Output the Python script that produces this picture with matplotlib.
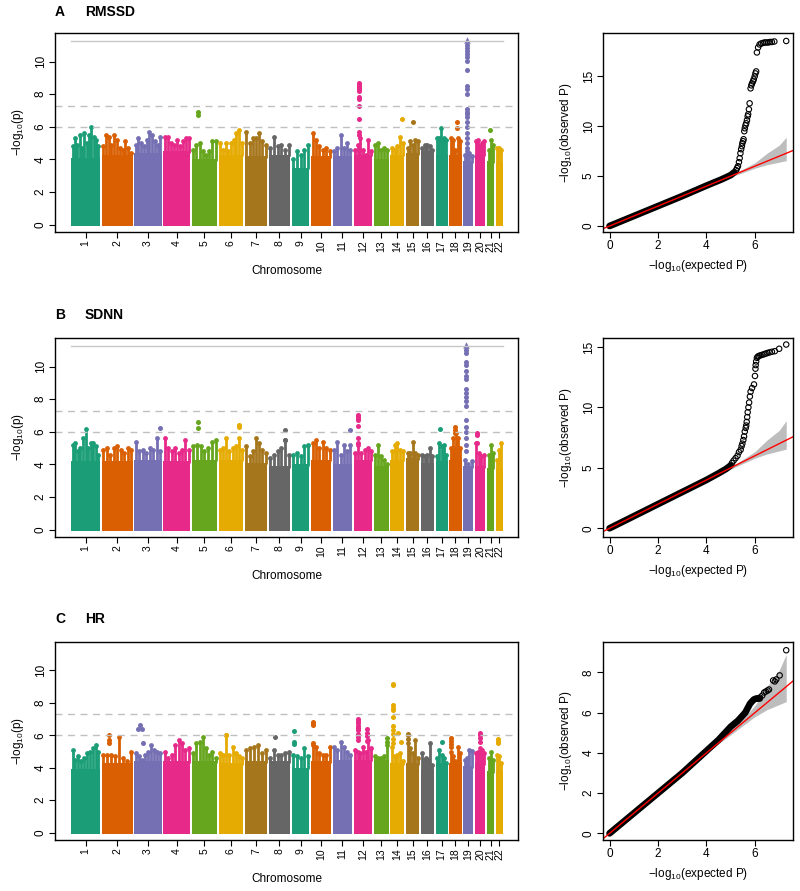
import numpy as np
import matplotlib
matplotlib.use("Agg")
import matplotlib.pyplot as plt

plt.rcParams['font.family'] = ['Liberation Sans', 'DejaVu Sans']
plt.rcParams['mathtext.fontset'] = 'custom'
plt.rcParams['mathtext.rm'] = 'Liberation Sans'
plt.rcParams['mathtext.default'] = 'regular'

chroms = [str(i) for i in range(1, 23)]
# visible extent of each chromosome on the genome axis (relative units)
chrom_width = [29, 31, 27.7, 26.7, 25.3, 24.6, 22.3, 21.4, 17.7, 20, 19.3,
               18.7, 15, 14, 13, 13.3, 12, 12.4, 10, 10.7, 7, 7.3]
chrom_gap = 1.6
palette = ["#1B9E77", "#D95F02", "#7570B3", "#E7298A",
           "#66A61E", "#E6AB02", "#A6761D", "#666666"]

suggestive = 6.0
genomewide = 7.3
cap_level = 11.25

# ---- RMSSD ----
rmssd_base = [4.1, 4.3, 4.4, 4.5, 4.0, 4.3, 4.2, 4.3, 3.5, 4.2, 4.2,
              4.3, 4.0, 4.3, 4.4, 4.5, 4.3, 4.3, 3.9, 4.3, 3.9, 3.8]
rmssd_tops = [
    [4.8, 5.3, 4.9, 5.5, 4.7, 5.6, 5.0, 5.5, 6.0, 5.4, 5.2, 4.8],
    [4.8, 5.5, 5.4, 4.9, 5.5, 5.2, 4.7, 4.6, 5.1, 4.7, 4.4],
    [4.9, 5.3, 5.0, 4.8, 5.2, 5.7, 5.5, 5.1, 4.9, 5.4],
    [5.4, 5.4, 5.0, 4.9, 5.2, 4.8, 5.1, 5.3, 5.3],
    [4.6, 4.9, 5.0, 4.5, 4.3, 4.5, 5.1, 5.1],
    [5.0, 4.6, 5.0, 4.5, 5.0, 5.2, 5.6, 5.8, 5.0],
    [5.7, 5.0, 5.3, 5.3, 5.6, 5.1, 4.9],
    [4.7, 5.4, 4.8, 4.9, 4.6, 4.9],
    [4.0, 4.5, 4.3, 4.6, 4.9],
    [5.6, 5.2, 4.8, 4.6, 4.7, 4.5],
    [4.5, 4.7, 5.5, 4.7, 5.0, 4.6],
    [4.6, 4.9, 5.3, 4.6, 4.3, 5.2, 4.5],
    [4.9, 5.0, 4.6, 4.7, 4.6],
    [4.7, 4.6, 4.8, 5.4, 5.0],
    [4.7, 5.1, 4.9, 5.2, 5.1],
    [4.7, 4.9, 4.9, 4.8, 4.6],
    [5.3, 5.3, 5.9, 5.1, 5.3, 5.2],
    [5.3, 5.2, 4.6, 5.3, 5.1],
    [4.3, 4.5, 4.4, 4.2],
    [5.1, 5.2, 4.8, 5.0, 5.1],
    [4.6, 5.2, 4.9],
    [4.7, 4.7, 4.6],
]
rmssd_hits = {
    5: [(0.25, [6.9, 6.75])],
    12: [(0.28, [8.7, 8.6, 8.5, 8.4, 8.3, 8.2, 7.8, 7.7, 7.3, 6.5, 5.7, 5.5])],
    14: [(0.8, [6.5])],
    15: [(0.5, [6.3])],
    18: [(0.65, [6.3, 5.9])],
    19: [(0.4, [11.0, 10.85, 10.65, 10.45, 10.25, 10.05, 9.5, 8.5, 8.3, 8.0,
                7.1, 6.9, 6.8, 6.6, 6.3, 6.0, 5.6, 5.3, 5.0, 4.7])],
    21: [(0.45, [5.8])],
}
rmssd_capped = {19: 0.4}

# ---- SDNN ----
sdnn_base = [4.2, 4.2, 4.3, 4.2, 4.3, 4.3, 4.1, 3.9, 4.0, 4.3, 4.0,
             4.3, 3.9, 4.3, 4.4, 4.1, 4.2, 4.3, 3.9, 3.9, 3.8, 3.8]
sdnn_tops = [
    [5.2, 5.3, 4.8, 5.0, 5.6, 6.2, 5.0, 5.3, 5.3, 5.1, 4.6],
    [4.9, 5.0, 4.6, 5.0, 5.1, 4.9, 4.7, 5.0, 4.9],
    [5.4, 4.8, 4.9, 4.7, 5.0, 4.9, 5.6, 4.8],
    [5.6, 5.0, 4.8, 5.0, 4.7, 4.9, 5.5, 4.9],
    [5.1, 5.2, 5.1, 4.8, 5.0, 5.4, 5.5],
    [4.9, 5.0, 5.6, 4.8, 5.0, 5.1, 5.6, 4.9],
    [5.1, 4.5, 4.8, 5.6, 5.3, 4.9, 4.7],
    [4.4, 4.6, 4.8, 5.0, 5.5, 4.6],
    [4.6, 4.7, 4.5, 5.1, 5.2],
    [5.3, 5.5, 5.0, 5.4, 5.0, 4.9],
    [4.9, 5.4, 4.6, 5.2, 4.8, 5.2],
    [4.7, 5.2, 4.7, 4.9, 5.0, 4.8],
    [4.6, 5.2, 4.5, 4.3, 4.0],
    [4.8, 5.2, 5.3, 4.9, 4.8],
    [4.7, 4.7, 5.4, 4.7, 4.6],
    [4.6, 4.5, 4.6, 5.0, 4.5],
    [4.5, 5.3, 5.1, 5.2, 4.6],
    [5.0, 5.6, 5.0, 5.9, 5.6, 5.0],
    [4.3, 4.0, 4.2],
    [5.3, 4.7, 4.5, 4.6],
    [4.6, 5.2, 4.7],
    [4.3, 4.9, 5.3],
]
sdnn_hits = {
    3: [(0.93, [6.25])],
    5: [(0.25, [6.6, 6.25])],
    6: [(0.84, [6.4, 6.3])],
    8: [(0.78, [6.1, 5.5])],
    11: [(0.9, [6.1])],
    12: [(0.25, [7.05, 6.95, 6.85, 6.7, 6.35, 5.6, 5.3])],
    17: [(0.4, [6.15])],
    18: [(0.5, [6.3, 6.1, 5.9])],
    19: [(0.3, [11.0, 10.8, 10.3, 10.1, 9.75, 9.45, 9.25, 8.6, 8.4, 8.15,
                7.9, 7.6, 6.7, 6.3, 6.0, 5.6, 5.2, 4.8])],
    20: [(0.2, [5.95, 5.8, 5.3])],
}
sdnn_capped = {19: 0.3}

# ---- HR ----
hr_base = [3.9, 4.3, 4.4, 4.4, 4.4, 4.3, 4.4, 4.4, 4.0, 4.4, 4.5,
           4.5, 4.5, 4.3, 4.3, 3.9, 4.3, 4.3, 4.1, 4.3, 3.8, 3.8]
hr_tops = [
    [5.1, 4.5, 4.7, 4.4, 4.6, 4.9, 5.0, 5.2, 5.4, 5.0],
    [4.8, 4.8, 4.8, 4.7, 5.9, 4.6, 4.4, 5.0],
    [4.9, 4.7, 4.5, 4.8, 5.0, 5.4, 5.1, 5.0, 4.9],
    [5.0, 4.6, 4.8, 5.4, 5.7, 5.5, 5.1, 5.2],
    [4.9, 5.5, 5.6, 5.9, 5.2, 4.8, 5.0, 4.6],
    [4.9, 4.8, 6.0, 4.8, 5.3, 4.9, 4.7, 4.6],
    [5.1, 5.2, 5.3, 5.4, 4.9, 5.1],
    [4.6, 5.1, 4.8, 4.8, 4.9, 5.0],
    [4.8, 4.7, 4.6, 5.2, 4.7],
    [5.4, 5.3, 4.9, 4.8, 4.8, 5.3],
    [5.3, 5.1, 5.6, 5.3, 5.0, 4.8],
    [5.1, 5.0, 4.9, 5.3, 5.0, 5.7, 5.2],
    [4.7, 4.6, 4.6, 4.7, 5.4],
    [5.3, 4.7, 4.8, 4.9, 4.4],
    [5.5, 5.2, 4.9, 5.7, 4.6],
    [4.9, 4.5, 4.6, 4.5, 5.5, 4.2],
    [4.6, 5.1, 4.8, 4.6, 4.3],
    [5.0, 4.7, 4.4, 5.3, 4.9],
    [4.5, 4.6, 5.1, 5.05],
    [4.9, 5.0, 5.2, 5.1, 4.9],
    [4.6, 5.0, 4.5],
    [4.8, 4.7, 4.3],
]
hr_hits = {
    2: [(0.25, [6.05, 5.7, 5.5])],
    3: [(0.21, [6.65]), (0.14, [6.4]), (0.29, [6.4]), (0.3, [5.55])],
    6: [(0.3, [6.05])],
    8: [(0.27, [5.9])],
    9: [(0.15, [6.25, 5.6, 5.45])],
    10: [(0.08, [6.85, 6.75, 6.65, 5.55])],
    12: [(0.23, [7.0, 6.9, 6.75, 6.6, 6.45, 6.3, 6.1, 5.9, 5.7]),
         (0.7, [6.4, 6.15, 5.95, 5.65])],
    13: [(0.9, [5.85, 5.6])],
    14: [(0.17, [9.15, 9.1, 7.85, 7.7, 7.55, 7.1, 6.55, 6.35, 6.1, 5.8, 5.5]),
         (0.55, [6.15]), (0.75, [5.6])],
    15: [(0.15, [6.1, 6.0, 5.8])],
    17: [(0.55, [5.6])],
    18: [(0.15, [5.85, 5.65, 5.45, 5.25])],
    20: [(0.45, [6.15, 6.0, 5.85, 5.6])],
    22: [(0.3, [5.8, 5.65, 5.5])],
}
hr_capped = {}

# ---- QQ plots ----
ci_exp = [4.0, 4.5, 5.0, 5.5, 6.0, 6.5, 7.0, 7.29]
ci_lo = [4.0, 4.45, 4.9, 5.35, 5.8, 6.15, 6.4, 6.55]
ci_hi = [4.02, 4.55, 5.1, 5.7, 6.35, 7.3, 8.1, 8.9]

qqA_dense_exp = [0, 1, 2, 3, 4, 4.6, 5.0, 5.15]
qqA_dense_obs = [0, 1.0, 2.0, 3.0, 4.05, 4.65, 5.1, 5.4]
qqA_exp = [5.22, 5.26, 5.30, 5.34, 5.37, 5.40, 5.43, 5.46, 5.48, 5.51, 5.53, 5.56,
           5.58, 5.61, 5.64, 5.67, 5.70, 5.72, 5.75, 5.78, 5.82, 5.85, 5.88, 5.92,
           5.95, 5.99, 6.02, 6.05, 6.08, 6.13, 6.19, 6.26, 6.33, 6.40, 6.47, 6.55,
           6.62, 6.70, 6.80, 7.29]
qqA_obs = [5.6, 5.8, 6.0, 6.4, 6.8, 7.3, 7.7, 8.0, 8.3, 8.5, 8.7, 9.5,
           9.8, 10.1, 10.3, 10.6, 11.0, 11.2, 11.7, 12.3, 13.8, 14.1, 14.3, 14.5,
           14.7, 15.0, 15.3, 15.5, 17.4, 17.9, 18.2, 18.3, 18.35, 18.4, 18.4, 18.4,
           18.45, 18.45, 18.5, 18.55]

qqB_dense_exp = [0, 1, 2, 3, 4, 4.5, 4.8, 5.0]
qqB_dense_obs = [0, 1, 2, 3, 4.0, 4.55, 4.9, 5.2]
qqB_exp = [5.05, 5.12, 5.2, 5.28, 5.34, 5.41, 5.45, 5.48, 5.52, 5.55, 5.58, 5.62,
           5.64, 5.66, 5.68, 5.70, 5.73, 5.76, 5.79, 5.82, 5.88, 5.96, 6.00, 6.02,
           6.03, 6.05, 6.08, 6.12, 6.16, 6.22, 6.3, 6.38, 6.44, 6.52, 6.6, 6.7,
           6.82, 7.0, 7.29]
qqB_obs = [5.4, 5.6, 5.8, 6.0, 6.3, 6.5, 6.8, 7.0, 7.3, 7.6, 8.0, 8.3,
           8.5, 8.8, 9.2, 9.6, 10.0, 10.4, 10.9, 11.3, 11.6, 11.9, 12.6, 13.2,
           13.5, 13.8, 14.1, 14.2, 14.25, 14.3, 14.35, 14.4, 14.45, 14.5, 14.55, 14.6,
           14.65, 14.85, 15.2]

qqC_dense_exp = [0, 1, 2, 3, 4, 4.5, 5.0, 5.3, 5.6, 5.8, 5.95, 6.05, 6.2]
qqC_dense_obs = [0, 1, 2, 3, 4.1, 4.65, 5.3, 5.6, 6.0, 6.45, 6.65, 6.7, 6.7]
qqC_exp = [6.1, 6.2, 6.3, 6.38, 6.45, 6.52, 6.58, 6.75, 6.82, 6.88, 7.02, 7.29]
qqC_obs = [6.7, 6.75, 6.85, 7.0, 7.05, 7.1, 7.15, 7.6, 7.55, 7.65, 7.85, 9.1]

FS = 8.5


def chrom_extents():
    w = np.array(chrom_width)
    starts = np.concatenate([[0], np.cumsum(w + chrom_gap)[:-1]])
    return starts, starts + w


def manhattan(ax, base, tops, hits, capped):
    starts, ends = chrom_extents()
    for i in range(22):
        col = palette[i % len(palette)]
        s, e = starts[i], ends[i]
        ax.fill_between([s, e], -0.08, base[i], color=col, lw=0)
        xs = np.linspace(s + 1.5, e - 1.5, len(tops[i]))
        ax.vlines(xs, base[i] - 0.1, tops[i], color=col, lw=2.0)
        ax.scatter(xs, tops[i], s=12, color=col, lw=0)
        for frac, vals in hits.get(i + 1, []):
            ax.scatter([s + frac * (e - s)] * len(vals), vals, s=13, color=col, lw=0)
        if i + 1 in capped:
            ax.scatter([s + capped[i + 1] * (e - s)], [cap_level + 0.08],
                       marker='^', s=22, color=col, lw=0)
    if capped:
        ax.plot([starts[0], ends[-1]], [cap_level, cap_level], color='#c8c8c8', lw=1)
    ax.axhline(genomewide, color='#c0c0c0', lw=1, ls=(0, (5, 4)))
    ax.axhline(suggestive, color='#c0c0c0', lw=1, ls=(0, (5, 4)))
    ax.set_xlim(starts[0] - 16, ends[-1] + 15)
    ax.set_ylim(-0.45, 11.75)
    ax.set_xticks((starts + ends) / 2)
    ax.set_xticklabels(chroms, rotation=90, fontsize=7.5)
    ax.set_yticks(range(0, 11, 2))
    ax.set_yticklabels([str(v) for v in range(0, 11, 2)], rotation=90, va='center', fontsize=FS)
    ax.set_xlabel('Chromosome', fontsize=FS, labelpad=9)
    ax.set_ylabel(r'$-log_{10}$(p)', fontsize=FS, labelpad=6)
    ax.tick_params(direction='out', length=4, width=0.8, pad=2)
    for sp in ax.spines.values():
        sp.set_linewidth(1.0)


def qqplot(ax, dense_exp, dense_obs, tail_exp, tail_obs, ylim, yticks):
    ax.fill_between(ci_exp, ci_lo, ci_hi, color='#bdbdbd', lw=0)
    ax.plot(dense_exp, dense_obs, color='black', lw=4.8, solid_capstyle='round')
    ax.scatter(tail_exp, tail_obs, s=15, facecolors='none', edgecolors='black', lw=0.8)
    ax.axline((0, 0), slope=1, color='red', lw=1)
    ax.set_xlim(-0.27, 7.57)
    ax.set_ylim(*ylim)
    ax.set_xticks([0, 2, 4, 6])
    ax.set_xticklabels(['0', '2', '4', '6'], fontsize=FS)
    ax.set_yticks(yticks)
    ax.set_yticklabels([str(v) for v in yticks], rotation=90, va='center', fontsize=FS)
    ax.set_xlabel(r'$-log_{10}$(expected P)', fontsize=FS, labelpad=4)
    ax.set_ylabel(r'$-log_{10}$(observed P)', fontsize=FS, labelpad=6)
    ax.tick_params(direction='out', length=4, width=0.8, pad=2)
    for sp in ax.spines.values():
        sp.set_linewidth(1.0)


W, H = 800, 891
fig = plt.figure(figsize=(W / 100, H / 100), dpi=100)


def px_axes(left, top, right, bottom):
    return fig.add_axes([left / W, 1 - bottom / H, (right - left) / W, (bottom - top) / H])


panels = [
    ('A', 'RMSSD', 33, 232, 12, rmssd_base, rmssd_tops, rmssd_hits, rmssd_capped,
     qqA_dense_exp, qqA_dense_obs, qqA_exp, qqA_obs, (-0.6, 19.35), [0, 5, 10, 15]),
    ('B', 'SDNN', 338, 537, 315, sdnn_base, sdnn_tops, sdnn_hits, sdnn_capped,
     qqB_dense_exp, qqB_dense_obs, qqB_exp, qqB_obs, (-0.72, 15.74), [0, 5, 10, 15]),
    ('C', 'HR', 642, 840, 619, hr_base, hr_tops, hr_hits, hr_capped,
     qqC_dense_exp, qqC_dense_obs, qqC_exp, qqC_obs, (-0.33, 9.51), [0, 2, 4, 6, 8]),
]

for (letter, name, top, bottom, ty, base, tops, hits, capped,
     dx, dy, tx, tyv, qylim, qyt) in panels:
    ax = px_axes(55, top, 518, bottom)
    manhattan(ax, base, tops, hits, capped)
    qax = px_axes(603, top, 793, bottom)
    qqplot(qax, dx, dy, tx, tyv, qylim, qyt)
    fig.text(55 / W, 1 - ty / H, letter, fontsize=10, fontweight='bold', va='center')
    fig.text(85 / W, 1 - ty / H, name, fontsize=10, fontweight='bold', va='center')

fig.savefig('out.png', dpi=100)
